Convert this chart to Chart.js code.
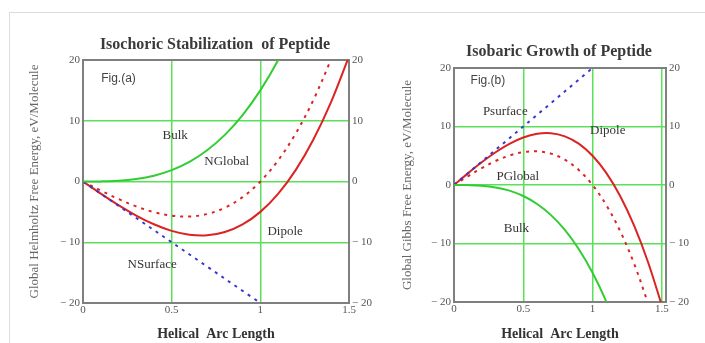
<!DOCTYPE html>
<html><head><meta charset="utf-8">
<script src="https://cdn.jsdelivr.net/npm/chart.js@4.4.1/dist/chart.umd.min.js"></script>
<style>
html,body{margin:0;padding:0;background:#fff;}
#page{position:relative;width:705px;height:343px;overflow:hidden;background:#fff;}
#frame{position:absolute;left:9px;top:12px;width:700px;height:340px;border-left:1px solid #dcdcdc;border-top:1px solid #dcdcdc;}
#c1{position:absolute;left:0;top:0;width:380px;height:343px;}
#c2{position:absolute;left:380px;top:0;width:325px;height:343px;}
</style></head><body>
<div id="page"><div id="frame"></div>
<canvas id="c1" width="380" height="343"></canvas>
<canvas id="c2" width="325" height="343"></canvas>
</div>
<script>
// ---------- data ----------
const arcLength = [0, 0.1, 0.2, 0.3, 0.4, 0.5, 0.6, 0.7, 0.8, 0.9, 1.0, 1.1, 1.2, 1.3, 1.4, 1.5];
const xTicks = [0, 0.5, 1, 1.5];
const yTicks = [-20, -10, 0, 10, 20];

// Fig (a) Isochoric
const bulkA     = [0, 0.02, 0.12, 0.41, 0.96, 1.88, 3.24, 5.15, 7.68, 10.94, 15.0, 19.97, 25.9];
const surfaceAx = [0, 1.0];
const surfaceA  = [0, -20];
const dipoleA   = [0, -1.99, -3.88, -5.6, -7.04, -8.13, -8.76, -8.86, -8.32, -7.07, -5.0, -2.04, 1.92, 6.96, 13.16, 20.6];
const globalA   = [0, -1.49, -2.88, -4.1, -5.04, -5.63, -5.76, -5.36, -4.32, -2.57, 0, 3.47, 7.92, 13.46, 20.16];

// Fig (b) Isobaric
const bulkB     = [0, -0.02, -0.12, -0.41, -0.96, -1.88, -3.24, -5.15, -7.68, -10.94, -15.0, -19.97, -25.9];
const surfaceBx = [0, 1.0];
const surfaceB  = [0, 20];
const dipoleB   = [0, 1.99, 3.88, 5.6, 7.04, 8.13, 8.76, 8.86, 8.32, 7.07, 5.0, 2.04, -1.92, -6.96, -13.16, -20.6];
const globalB   = [0, 1.49, 2.88, 4.1, 5.04, 5.63, 5.76, 5.36, 4.32, 2.57, 0, -3.47, -7.92, -13.46, -20.16];

// in-plot labels (data coordinates)
const labelTextA = ['Fig.(a)', 'Bulk', 'NGlobal', 'Dipole', 'NSurface'];
const labelXA    = [0.2, 0.52, 0.81, 1.14, 0.39];
const labelYA    = [17.0, 7.5, 3.2, -8.3, -13.6];
const labelTextB = ['Fig.(b)', 'Psurface', 'Dipole', 'PGlobal', 'Bulk'];
const labelXB    = [0.245, 0.37, 1.11, 0.46, 0.45];
const labelYB    = [17.9, 12.5, 9.3, 1.5, -7.4];

// ---------- styling ----------
const GREEN = 'rgb(50,205,50)';
const RED = 'rgb(220,35,35)';
const BLUE = 'rgb(55,55,205)';
const GRID = 'rgb(90,225,90)';
const AXIS = '#7f7f7f';
const SERIF = "'Liberation Serif', 'Times New Roman', serif";
const SANS = "'Liberation Sans', Arial, sans-serif";

function pts(xs, ys){ return ys.map((v,i)=>({x:xs[i], y:v})); }
function fmt(v){ return v < 0 ? '\u2212 ' + Math.abs(v) : String(v); }

const curveLabels = {
  id: 'curveLabels',
  afterDatasetsDraw(chart, args, opts){
    const {ctx, scales:{x, y}} = chart;
    ctx.save();
    ctx.textAlign = 'center'; ctx.textBaseline = 'middle';
    opts.text.forEach((t,i)=>{
      ctx.font = (i === 0) ? ('12px ' + SANS) : ('13px ' + SERIF);
      ctx.fillStyle = (i === 0) ? '#444' : '#333';
      ctx.fillText(t, x.getPixelForValue(opts.xs[i]), y.getPixelForValue(opts.ys[i]));
    });
    ctx.restore();
  }
};
const plotTitle = {
  id: 'plotTitle',
  afterDraw(chart, args, opts){
    const {ctx, chartArea} = chart;
    ctx.save();
    ctx.font = 'bold 16px ' + SERIF;
    ctx.fillStyle = '#3a3a3a';
    ctx.textAlign = 'center'; ctx.textBaseline = 'middle';
    ctx.fillText(opts.text, (chartArea.left + chartArea.right)/2 + opts.dx, opts.y);
    ctx.restore();
  }
};

function makeChart(id, cfg){
  const line = (data, color, dash) => ({
    data, borderColor: color, borderWidth: 2, pointRadius: 0, tension: 0.35,
    borderDash: dash || [], borderCapStyle: 'butt', fill: false
  });
  return new Chart(document.getElementById(id), {
    type: 'scatter',
    data: { datasets: [
      line(pts(arcLength, cfg.bulk), GREEN),
      line(pts(cfg.surfX, cfg.surf), BLUE, [3, 5]),
      line(pts(arcLength, cfg.dip), RED),
      line(pts(arcLength, cfg.glob), RED, [3, 5])
    ].map(d => Object.assign(d, {showLine: true})) },
    options: {
      responsive: false, animation: false, devicePixelRatio: 1,
      events: [],
      layout: { padding: { left: 20, top: cfg.top, right: 0, bottom: 0 } },
      plugins: {
        legend: { display: false }, tooltip: { enabled: false }, title: { display: false },
        curveLabels: { text: cfg.lt, xs: cfg.lx, ys: cfg.ly },
        plotTitle: { text: cfg.title, y: cfg.titleY, dx: cfg.titleDx }
      },
      scales: {
        x: {
          type: 'linear', position: 'bottom', min: 0, max: cfg.xMax,
          afterBuildTicks: s => { s.ticks = xTicks.map(v => ({value: v})); },
          afterFit: s => { s.height = 343 - cfg.bottom; },
          ticks: { callback: v => String(v), font: {family: SERIF, size: 11}, color: '#555', padding: 1, maxRotation: 0, autoSkip: false },
          grid: { drawTicks: false, lineWidth: 1.5, color: c => (c.tick && c.tick.value > 0 && c.tick.value < cfg.xMax - 0.001) ? GRID : 'rgba(0,0,0,0)' },
          border: { color: AXIS, width: 2 },
          title: { display: true, text: 'Helical  Arc Length', font: {family: SERIF, size: 14, weight: 'bold'}, color: '#333', padding: {top: 0, bottom: 0} }
        },
        xTop: {
          type: 'linear', position: 'top', min: 0, max: cfg.xMax,
          afterFit: s => { s.height = 0; },
          ticks: { display: false }, grid: { display: false, drawTicks: false },
          border: { color: AXIS, width: 2 }
        },
        y: {
          type: 'linear', position: 'left', min: -20, max: 20,
          afterBuildTicks: s => { s.ticks = yTicks.map(v => ({value: v})); },
          afterFit: s => { s.width = cfg.leftW; },
          ticks: { callback: fmt, font: {family: SERIF, size: 11}, color: '#555', padding: 3 },
          grid: { drawTicks: false, lineWidth: 1.5, color: c => (c.tick && Math.abs(c.tick.value) < 20) ? GRID : 'rgba(0,0,0,0)' },
          border: { color: AXIS, width: 2 },
          title: { display: true, text: cfg.yTitle, font: {family: SERIF, size: 13}, color: '#666', padding: {top: cfg.ytPad, bottom: 0} }
        },
        yRight: {
          type: 'linear', position: 'right', min: -20, max: 20,
          afterBuildTicks: s => { s.ticks = yTicks.map(v => ({value: v})); },
          afterFit: s => { s.width = cfg.rightW; },
          ticks: { callback: fmt, font: {family: SERIF, size: 11}, color: '#555', padding: 3 },
          grid: { display: false, drawTicks: false },
          border: { color: AXIS, width: 2 }
        }
      }
    },
    plugins: [curveLabels, plotTitle]
  });
}

makeChart('c1', {
  bulk: bulkA, surfX: surfaceAx, surf: surfaceA, dip: dipoleA, glob: globalA,
  lt: labelTextA, lx: labelXA, ly: labelYA,
  title: 'Isochoric Stabilization  of Peptide', titleY: 45, titleDx: -1,
  xMax: 1.5, top: 60, bottom: 303, leftW: 63, rightW: 31, ytPad: 7,
  yTitle: 'Global Helmholtz Free Energy, eV/Molecule'
});
makeChart('c2', {
  bulk: bulkB, surfX: surfaceBx, surf: surfaceB, dip: dipoleB, glob: globalB,
  lt: labelTextB, lx: labelXB, ly: labelYB,
  title: 'Isobaric Growth of Peptide', titleY: 52, titleDx: -1,
  xMax: 1.53, top: 68, bottom: 302, leftW: 54, rightW: 39, ytPad: 0,
  yTitle: 'Global Gibbs Free Energy, eV/Molecule'
});
</script>
</body></html>
